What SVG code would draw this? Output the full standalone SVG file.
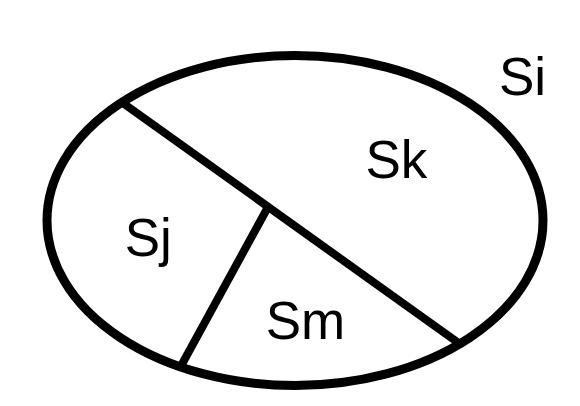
<svg xmlns="http://www.w3.org/2000/svg" width="580" height="406" viewBox="0 0 580 406">
<style>
.s{fill:none;stroke:#000;stroke-width:9}
.l{stroke:#000;stroke-width:8}
.t{font-family:"Liberation Sans",Arial,sans-serif;font-size:53px;fill:#000}
</style>
<rect width="580" height="406" fill="#fff"/>
<g id="Si">
<ellipse class="s" cx="295" cy="220.5" rx="248" ry="165"/>
<text class="t" x="499" y="95">Si</text>
</g>
<g id="connectors">
<line class="l" x1="120" y1="101" x2="460" y2="344"/>
<line class="l" x1="268" y1="207" x2="181" y2="366"/>
</g>
<g id="Sk"><text class="t" x="365.5" y="178">Sk</text></g>
<g id="Sj"><text class="t" x="124.7" y="256">Sj</text></g>
<g id="Sm"><text class="t" x="265.7" y="339">Sm</text></g>
</svg>
